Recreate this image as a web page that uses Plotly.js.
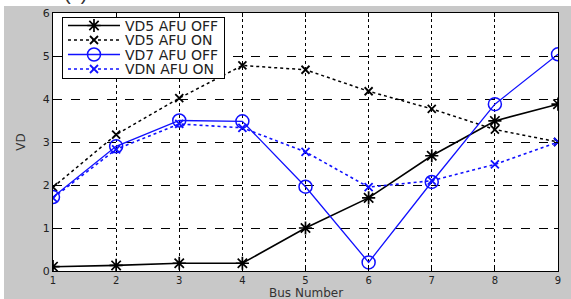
<!DOCTYPE html>
<html><head><meta charset="utf-8">
<script src="https://cdn.plot.ly/plotly-3.0.1.min.js"></script>
<style>
html,body{margin:0;padding:0;background:#fff;width:571px;height:299px;overflow:hidden;}
#top{position:absolute;left:0;top:0;width:571px;height:6px;overflow:hidden;}
#top span{position:absolute;left:64px;top:-18px;font:20px "Liberation Sans",Arial,sans-serif;color:#333;}
#plot{position:absolute;left:4px;top:6px;width:567px;height:293px;}
</style></head>
<body>
<div id="top"><span>(c)</span></div>
<div id="plot"></div>
<script>
var busNumbers = [1,2,3,4,5,6,7,8,9];
var vd5AfuOff = [0.10,0.13,0.18,0.18,1.00,1.70,2.68,3.49,3.88];
var vd5AfuOn  = [1.95,3.17,4.02,4.78,4.68,4.18,3.77,3.29,3.00];
var vd7AfuOff = [1.72,2.90,3.50,3.48,1.96,0.20,2.07,3.88,5.04];
var vdnAfuOn  = [1.70,2.83,3.42,3.33,2.77,1.95,2.10,2.48,3.00];
var seriesNames = ['VD5 AFU OFF','VD5 AFU ON','VD7 AFU OFF','VDN AFU ON'];
var yTicks = [0,1,2,3,4,5,6];
var xTitle = 'Bus Number';

var FONT = '"DejaVu Sans",Verdana,sans-serif';
var traces = [
 {x:busNumbers,y:vd5AfuOff,name:seriesNames[0],mode:'lines+markers',
  line:{color:'#000',width:1.6,dash:'solid'},
  marker:{symbol:'asterisk-open',size:11,color:'#000',line:{color:'#000',width:1.7}}},
 {x:busNumbers,y:vd5AfuOn,name:seriesNames[1],mode:'lines+markers',
  line:{color:'#000',width:1.5,dash:'dot'},
  marker:{symbol:'x-thin-open',size:8,color:'#000',line:{color:'#000',width:1.8}}},
 {x:busNumbers,y:vd7AfuOff,name:seriesNames[2],mode:'lines+markers',
  line:{color:'#1010ff',width:1.3,dash:'solid'},
  marker:{symbol:'circle-open',size:13,color:'#1010ff',line:{color:'#1010ff',width:1.5}}},
 {x:busNumbers,y:vdnAfuOn,name:seriesNames[3],mode:'lines+markers',
  line:{color:'#1010ff',width:1.6,dash:'dot'},
  marker:{symbol:'x-thin-open',size:8,color:'#1010ff',line:{color:'#1010ff',width:1.8}}}
];

var layout = {
 width:567,height:293,
 margin:{l:49,r:13,t:7,b:28},
 paper_bgcolor:'#c8c8c8',plot_bgcolor:'#fff',
 font:{family:FONT,size:11,color:'#222'},
 showlegend:true,
 legend:{x:0.0178,y:0.9845,xanchor:'left',yanchor:'top',bgcolor:'#fff',bordercolor:'#000',borderwidth:1,
   font:{family:FONT,size:14,color:'#222'},tracegroupgap:0,itemwidth:52},
 xaxis:{range:[1,9],tickvals:busNumbers,showline:true,linecolor:'#000',linewidth:1,mirror:'ticks',
   ticks:'inside',ticklen:4,tickcolor:'#000',showgrid:true,gridcolor:'#000',gridwidth:1,griddash:'dot',
   zeroline:false,tickfont:{family:FONT,size:10,color:'#222'}},
 yaxis:{range:[0,6],tickvals:yTicks,showline:true,linecolor:'#000',linewidth:1,mirror:'ticks',
   ticks:'inside',ticklen:4,tickcolor:'#000',showgrid:true,gridcolor:'#000',gridwidth:1,griddash:'dash',
   zeroline:false,tickfont:{family:FONT,size:11,color:'#222'},
   title:{text:'VD',font:{family:FONT,size:12,color:'#333'},standoff:14}},
 annotations:[{text:xTitle,xref:'paper',yref:'paper',x:0.5,y:0,xanchor:'center',yanchor:'middle',
   yshift:-21.5,showarrow:false,font:{family:FONT,size:12,color:'#333'}}]
};
Plotly.newPlot('plot',traces,layout,{displayModeBar:false,staticPlot:true}).then(function(gd){
  // tighten legend row spacing to match the reference
  var items = gd.querySelectorAll('.legend .traces');
  var step = 14.5, first = 8.5;
  items.forEach(function(g,i){
    var t = g.getAttribute('transform') || '';
    var m = t.match(/translate\(\s*([-\d.]+)[ ,]+([-\d.]+)/);
    var x = m ? parseFloat(m[1]) : 0;
    g.setAttribute('transform','translate('+x+','+(first+i*step)+')');
  });
  var bg = gd.querySelector('.legend .bg');
  if(bg){ bg.setAttribute('height', first+(items.length-1)*step+9); }
});
</script>
</body></html>
